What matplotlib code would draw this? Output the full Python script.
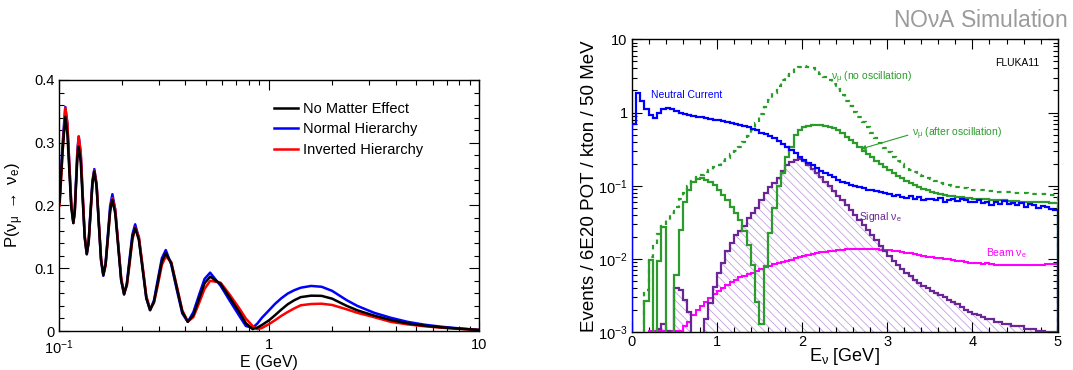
import numpy as np
import matplotlib
matplotlib.use('Agg')
from matplotlib import pyplot as plt
from matplotlib.lines import Line2D
from matplotlib.ticker import (FixedLocator, FixedFormatter, MultipleLocator,
                               LogLocator, NullFormatter)

plt.rcParams['font.family'] = 'Liberation Sans'
plt.rcParams['mathtext.fontset'] = 'custom'
plt.rcParams['mathtext.rm'] = 'Liberation Sans'
plt.rcParams['mathtext.it'] = 'Liberation Sans:italic'
plt.rcParams['mathtext.bf'] = 'Liberation Sans:bold'
plt.rcParams['mathtext.default'] = 'regular'
plt.rcParams['hatch.linewidth'] = 0.6

# ---- left panel: P(numu -> nue) vs E (GeV) ----
energy = [0.1010, 0.1042, 0.1075, 0.1099, 0.1123, 0.1148, 0.1174, 0.1192, 0.1209, 0.1227,
          0.1245, 0.1273, 0.1301, 0.1330, 0.1360, 0.1388, 0.1417, 0.1447, 0.1477, 0.1514,
          0.1551, 0.1590, 0.1630, 0.1671, 0.1713, 0.1756, 0.1800, 0.1858, 0.1919, 0.1982,
          0.2046, 0.2109, 0.2174, 0.2241, 0.2310, 0.2406, 0.2506, 0.2610, 0.2720, 0.2839,
          0.2964, 0.3094,
          0.3230, 0.3429, 0.3642, 0.3869, 0.4110, 0.4368, 0.4645, 0.4938, 0.5250, 0.5888,
          0.6486, 0.7228, 0.7762, 0.8356, 0.8810, 0.9247, 1.0, 1.0666, 1.1429, 1.2274,
          1.3183, 1.4158, 1.5849, 1.7783, 1.9953, 2.3442, 2.6303, 3.1623, 3.8019, 4.5709,
          5.4954, 6.6069, 7.9433, 10.0]
p_none = [0.206, 0.285, 0.341, 0.316, 0.2565, 0.1967, 0.172, 0.1898, 0.233, 0.2762,
          0.294, 0.269, 0.2085, 0.148, 0.123, 0.142, 0.1885, 0.235, 0.254, 0.230,
          0.1715, 0.113, 0.089, 0.1065, 0.149, 0.1915, 0.209, 0.187, 0.134, 0.081,
          0.059, 0.0743, 0.1115, 0.1487, 0.164, 0.145, 0.0988, 0.0526, 0.0335, 0.0467,
          0.0788, 0.1108,
          0.124, 0.108, 0.0694, 0.0307, 0.0148, 0.0253, 0.0507, 0.0761, 0.0866, 0.075,
          0.054, 0.030, 0.0125, 0.003, 0.0055, 0.0095, 0.017, 0.025, 0.034, 0.0426,
          0.049, 0.054, 0.0563, 0.0560, 0.0515, 0.040, 0.033, 0.0245, 0.0175, 0.012,
          0.0085, 0.0058, 0.0038, 0.0016]
p_normal = [0.21, 0.295, 0.357, 0.330, 0.266, 0.200, 0.172, 0.192, 0.240, 0.288,
            0.310, 0.282, 0.215, 0.150, 0.122, 0.143, 0.192, 0.240, 0.258, 0.233,
            0.173, 0.113, 0.088, 0.108, 0.153, 0.199, 0.218, 0.193, 0.137, 0.081,
            0.058, 0.076, 0.116, 0.154, 0.170, 0.148, 0.100, 0.052, 0.033, 0.049,
            0.083, 0.116,
            0.129, 0.106, 0.066, 0.028, 0.0145, 0.030, 0.057, 0.083, 0.093, 0.072,
            0.049, 0.024, 0.008, 0.005, 0.012, 0.021, 0.033, 0.043, 0.052, 0.0597,
            0.065, 0.069, 0.0718, 0.0705, 0.064, 0.049, 0.040, 0.029, 0.021, 0.0145,
            0.010, 0.0068, 0.0043, 0.0018]
p_inverted = [0.20, 0.28, 0.356, 0.333, 0.268, 0.203, 0.173, 0.188, 0.233, 0.283,
              0.310, 0.285, 0.218, 0.152, 0.124, 0.140, 0.185, 0.234, 0.256, 0.235,
              0.176, 0.116, 0.090, 0.104, 0.146, 0.190, 0.212, 0.193, 0.139, 0.085,
              0.060, 0.072, 0.107, 0.145, 0.165, 0.150, 0.104, 0.056, 0.0345, 0.045,
              0.074, 0.105,
              0.119, 0.110, 0.072, 0.033, 0.0150, 0.022, 0.044, 0.067, 0.080, 0.077,
              0.0585, 0.036, 0.0198, 0.008, 0.003, 0.0048, 0.011, 0.017, 0.024, 0.0303,
              0.036, 0.041, 0.0430, 0.0435, 0.0415, 0.0345, 0.029, 0.022, 0.0145, 0.0105,
              0.0075, 0.0052, 0.0035, 0.0015]

# ---- right panel: events per 50 MeV bin, 0-5 GeV ----
bin_edges = np.linspace(0.0, 5.0, 101)
neutral_current = [0.69, 1.83, 1.44, 1.12, 0.93, 0.85, 0.99, 1.12, 1.17, 1.12,
                   1.06, 1.00, 0.97, 0.94, 0.91, 0.88, 0.86, 0.84, 0.82, 0.80,
                   0.78, 0.76, 0.74, 0.72, 0.70, 0.68, 0.66, 0.63, 0.60, 0.57,
                   0.53, 0.51, 0.48, 0.45, 0.41, 0.37, 0.34, 0.31, 0.28, 0.25,
                   0.225, 0.205, 0.19, 0.175, 0.16, 0.15, 0.14, 0.13, 0.12, 0.114,
                   0.108, 0.103, 0.099, 0.095, 0.092, 0.089, 0.087, 0.084, 0.082, 0.080,
                   0.077, 0.072, 0.075, 0.070, 0.068, 0.072, 0.066, 0.070, 0.064, 0.067,
                   0.066, 0.063, 0.068, 0.060, 0.064, 0.066, 0.062, 0.065, 0.063, 0.061,
                   0.060, 0.063, 0.058, 0.061, 0.055, 0.060, 0.057, 0.062, 0.056, 0.058,
                   0.055, 0.059, 0.052, 0.056, 0.054, 0.050, 0.053, 0.051, 0.048, 0.047]
numu_no_osc = [0, 0, 0, 0.0038, 0.0105, 0.016, 0.022, 0.028, 0.034, 0.042,
               0.052, 0.065, 0.080, 0.098, 0.115, 0.130, 0.140, 0.152, 0.165, 0.180,
               0.195, 0.215, 0.240, 0.27, 0.30, 0.34, 0.40, 0.48, 0.58, 0.72,
               0.95, 1.2, 1.5, 1.85, 2.3, 2.75, 3.2, 3.6, 4.0, 4.25,
               4.35, 4.25, 4.0, 3.7, 3.4, 3.1, 2.8, 2.45, 2.1, 1.75,
               1.45, 1.22, 1.02, 0.87, 0.74, 0.63, 0.53, 0.45, 0.385, 0.33,
               0.29, 0.25, 0.22, 0.20, 0.18, 0.165, 0.152, 0.142, 0.134, 0.128,
               0.122, 0.116, 0.110, 0.105, 0.101, 0.098, 0.096, 0.094, 0.092, 0.090,
               0.089, 0.088, 0.087, 0.086, 0.085, 0.084, 0.083, 0.082, 0.081, 0.080,
               0.080, 0.079, 0.079, 0.078, 0.078, 0.077, 0.077, 0.077, 0.076, 0.076]
numu_osc = [0, 0, 0, 0.0027, 0.0098, 0, 0.0095, 0.027, 0, 0,
            0.006, 0.025, 0.061, 0.088, 0.114, 0.124, 0.126, 0.120, 0.112, 0.102,
            0.088, 0.075, 0.063, 0.052, 0.043, 0.034, 0.024, 0.0155, 0.0083, 0.0026,
            0.0013, 0.008, 0.023, 0.05, 0.10, 0.15, 0.25, 0.34, 0.50, 0.58,
            0.63, 0.66, 0.68, 0.68, 0.68, 0.66, 0.64, 0.61, 0.57, 0.52,
            0.47, 0.42, 0.38, 0.34, 0.30, 0.27, 0.245, 0.22, 0.20, 0.18,
            0.165, 0.15, 0.138, 0.127, 0.117, 0.109, 0.102, 0.096, 0.091, 0.087,
            0.083, 0.080, 0.077, 0.075, 0.073, 0.072, 0.071, 0.070, 0.069, 0.068,
            0.067, 0.066, 0.065, 0.065, 0.064, 0.064, 0.063, 0.063, 0.062, 0.062,
            0.062, 0.061, 0.061, 0.061, 0.060, 0.060, 0.060, 0.060, 0.059, 0.059]
signal_nue = [0, 0, 0, 0, 0, 0, 0.0011, 0.0013, 0.00105, 0,
              0.0040, 0.0038, 0.0028, 0.0019, 0, 0, 0, 0.0015, 0.0025, 0.0042,
              0.0064, 0.0088, 0.0127, 0.0165, 0.021, 0.024, 0.028, 0.036, 0.042, 0.049,
              0.064, 0.080, 0.097, 0.11, 0.126, 0.16, 0.19, 0.21, 0.225, 0.235,
              0.215, 0.195, 0.172, 0.150, 0.130, 0.113, 0.098, 0.085, 0.073, 0.063,
              0.054, 0.046, 0.040, 0.034, 0.029, 0.025, 0.021, 0.018, 0.0153, 0.013,
              0.011, 0.0095, 0.0083, 0.0073, 0.0065, 0.0058, 0.0052, 0.0047, 0.0043, 0.0040,
              0.0037, 0.0034, 0.0032, 0.0030, 0.0028, 0.0026, 0.0024, 0.0022, 0.0020, 0.0019,
              0.0018, 0.0017, 0.0016, 0.0015, 0.0015, 0.0014, 0.0014, 0.0013, 0.0013, 0.0012,
              0.0012, 0.0012, 0.0011, 0.0011, 0.0011, 0.00105, 0.00103, 0.00102, 0.0010, 0.0010]
beam_nue = [0, 0, 0, 0, 0.00105, 0.00105, 0.00105, 0.00105, 0.00105, 0.00105,
            0.00105, 0.00105, 0.0012, 0.0014, 0.0017, 0.0020, 0.0023, 0.0026, 0.0029, 0.0033,
            0.0037, 0.0040, 0.0044, 0.0048, 0.0052, 0.0056, 0.0059, 0.0062, 0.0065, 0.0068,
            0.0073, 0.0077, 0.0081, 0.0085, 0.0088, 0.0091, 0.0095, 0.0098, 0.0102, 0.0106,
            0.0110, 0.0114, 0.0117, 0.0120, 0.0123, 0.0126, 0.0128, 0.0130, 0.0132, 0.0134,
            0.0135, 0.0136, 0.0137, 0.0137, 0.0137, 0.0136, 0.0136, 0.0135, 0.0134, 0.0132,
            0.0131, 0.0129, 0.0127, 0.0125, 0.0122, 0.0120, 0.0117, 0.0114, 0.0111, 0.0108,
            0.0106, 0.0104, 0.0102, 0.0101, 0.0099, 0.0097, 0.0095, 0.0093, 0.0091, 0.0089,
            0.0088, 0.0087, 0.0086, 0.0087, 0.0085, 0.0084, 0.0083, 0.0084, 0.0083, 0.0082,
            0.0083, 0.0082, 0.0083, 0.0084, 0.0083, 0.0084, 0.0084, 0.0085, 0.0085, 0.0085]

GREEN = '#2b9b2b'
PURPLE = '#6a2596'
HATCH = '#c4a0e0'


def shown(v):
    # empty bins fall below the log axis
    v = np.asarray(v, dtype=float)
    return np.where(v > 0, v, 1e-6)


def root_style(ax, major=7, minor=3.5):
    ax.tick_params(which='both', direction='in', top=True, right=True, width=0.8)
    ax.tick_params(which='major', length=major)
    ax.tick_params(which='minor', length=minor)
    for sp in ax.spines.values():
        sp.set_linewidth(1.0)


fig = plt.figure(figsize=(10.73, 3.70), dpi=100)

# ---- left ----
ax1 = fig.add_axes([0.0547, 0.1054, 0.392, 0.6784])
ax1.plot(energy, p_normal, color='#0000ff', lw=1.8, solid_joinstyle='round')
ax1.plot(energy, p_inverted, color='#ff0000', lw=1.8, solid_joinstyle='round')
ax1.plot(energy, p_none, color='black', lw=1.8, solid_joinstyle='round')
ax1.set_xscale('log')
ax1.set_xlim(0.1, 10)
ax1.set_ylim(0, 0.4)
ax1.xaxis.set_major_locator(FixedLocator([0.1, 1, 10]))
ax1.xaxis.set_major_formatter(FixedFormatter(['$10^{-1}$', '1', '10']))
ax1.xaxis.set_minor_locator(LogLocator(base=10, subs=np.arange(2, 10)))
ax1.xaxis.set_minor_formatter(NullFormatter())
ax1.yaxis.set_major_locator(FixedLocator([0, 0.1, 0.2, 0.3, 0.4]))
ax1.yaxis.set_major_formatter(FixedFormatter(['0', '0.1', '0.2', '0.3', '0.4']))
ax1.yaxis.set_minor_locator(MultipleLocator(0.02))
root_style(ax1)
ax1.tick_params(axis='x', labelsize=10.5, pad=5)
ax1.tick_params(axis='y', labelsize=10.5, pad=3)
ax1.set_xlabel('E (GeV)', fontsize=11.5)
ax1.xaxis.label.set_va('center')
ax1.xaxis.set_label_coords(0.5, -0.1235)
ax1.set_ylabel(r'P($\nu_{\mu}$ $\rightarrow$ $\nu_{e}$)', fontsize=12)
ax1.yaxis.label.set_va('center')
ax1.yaxis.set_label_coords(-0.104, 0.5)

handles = [Line2D([], [], color='black', lw=1.8),
           Line2D([], [], color='#0000ff', lw=1.8),
           Line2D([], [], color='#ff0000', lw=1.8)]
ax1.legend(handles, ['No Matter Effect', 'Normal Hierarchy', 'Inverted Hierarchy'],
           loc='upper left', bbox_to_anchor=(0.513, 0.913), frameon=False,
           fontsize=10.5, handlelength=1.6, handletextpad=0.35, labelspacing=0.45,
           borderpad=0, borderaxespad=0)

# ---- right ----
ax2 = fig.add_axes([0.5887, 0.1019, 0.397, 0.7919])
ax2.set_yscale('log')
ax2.stairs(shown(signal_nue), bin_edges, baseline=1e-6, fill=True, facecolor='none',
           edgecolor=HATCH, hatch='\\\\\\\\', lw=0, zorder=1)
ax2.stairs(shown(beam_nue), bin_edges, baseline=1e-6, color='#ff00ff', lw=1.5, zorder=2)
ax2.stairs(shown(signal_nue), bin_edges, baseline=1e-6, color=PURPLE, lw=1.6, zorder=3)
ax2.stairs(shown(numu_osc), bin_edges, baseline=1e-6, color=GREEN, lw=1.6, zorder=4)
ax2.stairs(shown(numu_no_osc), bin_edges, baseline=1e-6, color=GREEN, lw=1.6,
           linestyle=(0, (2, 2.2)), zorder=4)
ax2.stairs(shown(neutral_current), bin_edges, baseline=1e-6, color='#0000ff', lw=1.6, zorder=5)
ax2.set_xlim(0, 5)
ax2.set_ylim(1e-3, 10)
ax2.yaxis.set_major_locator(FixedLocator([1e-3, 1e-2, 1e-1, 1, 10]))
ax2.yaxis.set_major_formatter(FixedFormatter(['$10^{-3}$', '$10^{-2}$', '$10^{-1}$', '1', '10']))
ax2.yaxis.set_minor_locator(LogLocator(base=10, subs=np.arange(2, 10)))
ax2.yaxis.set_minor_formatter(NullFormatter())
ax2.xaxis.set_major_locator(MultipleLocator(1))
ax2.xaxis.set_minor_locator(MultipleLocator(0.2))
root_style(ax2)
ax2.tick_params(axis='x', labelsize=10.5, pad=2)
ax2.tick_params(axis='y', labelsize=10.5, pad=3)
ax2.set_xlabel(r'E$_{\nu}$ [GeV]', fontsize=13)
ax2.xaxis.label.set_va('center')
ax2.xaxis.set_label_coords(0.5, -0.084)
ax2.set_ylabel('Events / 6E20 POT / kton / 50 MeV', fontsize=13.5)
ax2.yaxis.label.set_va('center')
ax2.yaxis.set_label_coords(-0.098, 0.5)

ax2.text(0.227, 1.74, 'Neutral Current', color='#0000ff', fontsize=7.5, va='center')
ax2.text(2.34, 3.0, r'$\nu_{\mu}$ (no oscillation)', color=GREEN, fontsize=7.5, va='center')
ax2.annotate(r'$\nu_{\mu}$ (after oscillation)', xy=(2.69, 0.318), xytext=(3.29, 0.51),
             color=GREEN, fontsize=7.5, va='center', ha='left',
             arrowprops=dict(arrowstyle='-|>', color=GREEN, lw=0.8, mutation_scale=7,
                             shrinkA=1, shrinkB=0, relpos=(0, 0.5)))
ax2.text(2.67, 0.0375, r'Signal $\nu_{e}$', color=PURPLE, fontsize=7.5, va='center')
ax2.text(4.155, 0.0121, r'Beam $\nu_{e}$', color='#ff00ff', fontsize=7.5, va='center')
ax2.text(4.27, 4.8, 'FLUKA11', color='black', fontsize=7.5, va='center')

fig.text(0.9953, 0.944, r'NO$\nu$A Simulation', color='#9b9b9b', fontsize=16.5,
         ha='right', va='center')

fig.savefig('out.png', dpi=100)
